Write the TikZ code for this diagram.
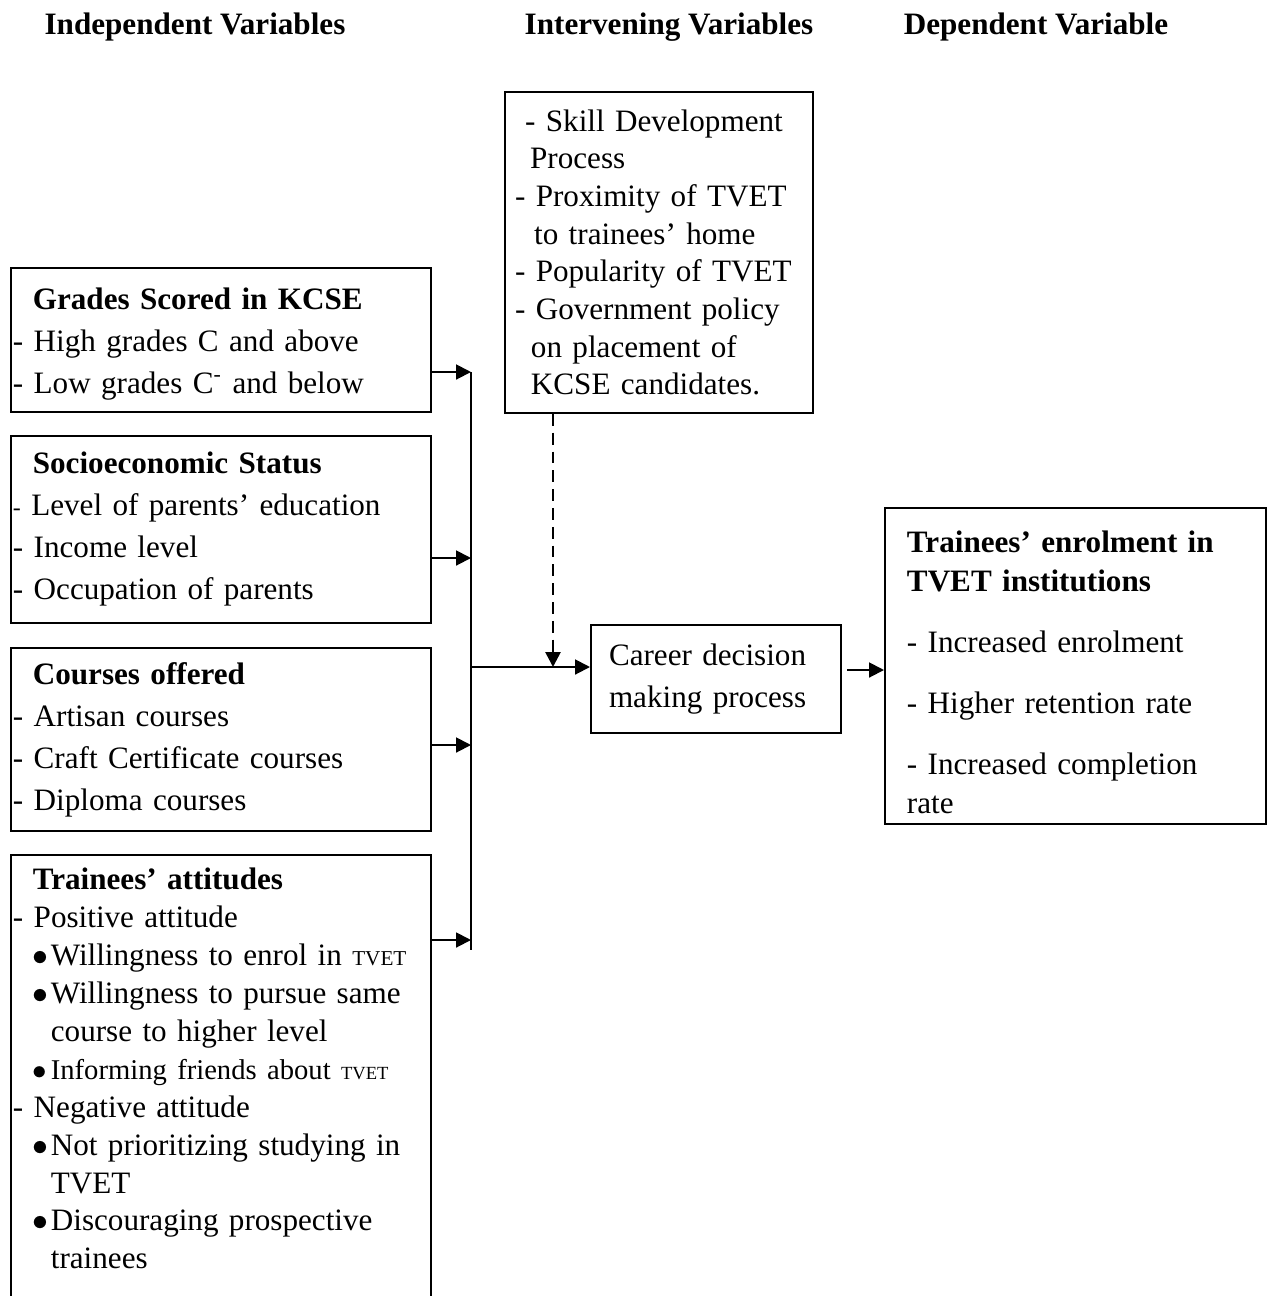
\documentclass[tikz,border=0pt]{standalone}
\usepackage{fontspec}
\setmainfont{Liberation Serif}
\usetikzlibrary{arrows.meta, positioning}
\newcommand{\hd}[1]{\hspace*{7.5pt}\textbf{#1}}
\newcommand{\bul}{\hspace*{7.5pt}\makebox[6.8pt][l]{$\bullet$}}
\newcommand{\ind}{\hspace*{14.3pt}}
\tikzset{
    >={Triangle[length=5.6pt,width=5.6pt]},
    x=0.3774pt, y=-0.3774pt,
    % Shapes
    box/.style={rectangle, draw, line width=0.75pt, inner ysep=0pt, align=left,
                font=\fontsize{11.75}{15.85}\selectfont},
    leftBox/.style={box, inner xsep=0.75pt, text width=157pt, minimum width=158.5pt},
    heading/.style={font=\fontsize{11.75}{14}\selectfont\bfseries, anchor=base},
    % Flow
    flow/.style={->, line width=0.75pt},
    bus/.style={line width=0.6pt},
    influence/.style={->, line width=1pt, dash pattern=on 4.5pt off 2.6pt}
}
\begin{document}
\begin{tikzpicture}
\useasboundingbox (0,0) rectangle (1269,1296);

\node[heading] (hIndep) at (195,34) {Independent Variables};
\node[heading] (hInterv) at (669,34) {Intervening Variables};
\node[heading] (hDep) at (1036,34) {Dependent Variable};

% Independent variables
\node[leftBox, anchor=north west, minimum height=54.3pt] (grades) at (10,267)
    {\hd{Grades Scored in KCSE}\rule{0pt}{11.2pt}\\
     - High grades C and above\\
     - Low grades C\textsuperscript{-} and below};
\node[leftBox, below=8.3pt of grades, minimum height=70.6pt] (socio)
    {\hd{Socioeconomic Status}\\
     {\small -} Level of parents’ education\\
     - Income level\\
     - Occupation of parents};
\node[leftBox, below=8.7pt of socio, minimum height=69.1pt] (courses)
    {\hd{Courses offered}\\
     - Artisan courses\\
     - Craft Certificate courses\\
     - Diploma courses};
\node[leftBox, below=8.3pt of courses, inner ysep=5pt,
      font=\fontsize{11.75}{14.3}\selectfont] (attitudes)
    {\hd{Trainees’ attitudes}\\
     - Positive attitude\\
     \bul Willingness to enrol in {\footnotesize TVET}\\
     \bul Willingness to pursue same\\
     \ind course to higher level\\
     {\fontsize{10.8}{14.3}\selectfont\bul Informing friends about {\scriptsize TVET}}\\
     - Negative attitude\\
     \bul Not prioritizing studying in\\
     \ind TVET\\
     \bul Discouraging prospective\\
     \ind trainees\rule[-20pt]{0pt}{0pt}};

% Intervening variables
\node[box, anchor=north west, inner xsep=3.8pt, text width=108.6pt,
      minimum height=121.1pt, font=\fontsize{11.75}{14.2}\selectfont] (interv) at (504,91)
    {\hspace*{3.8pt}- Skill Development\\
     \hspace*{5.7pt}Process\\
     - Proximity of TVET\\
     \hspace*{7.2pt}to trainees’ home\\
     - Popularity of TVET\\
     - Government policy\\
     \hspace*{6pt}on placement of\\
     \hspace*{6pt}KCSE candidates.};

\node[box, anchor=north west, inner xsep=6.8pt, text width=80.75pt,
      minimum height=40.8pt] (career) at (590,624)
    {Career decision\\ making process};

% Dependent variable
\node[box, anchor=north west, inner xsep=8.3pt, text width=127.2pt,
      minimum height=119.3pt, font=\fontsize{11.75}{14.7}\selectfont] (dep) at (884,507)
    {\textbf{Trainees’ enrolment in}\rule{0pt}{13pt}\\
     \textbf{TVET institutions}\\[8.3pt]
     - Increased enrolment\\[8.3pt]
     - Higher retention rate\\[8.3pt]
     - Increased completion\\
     rate};

\coordinate (busTop) at (471,372);
\coordinate (busBot) at (471,950);
\coordinate (busMid) at (471,667);
\coordinate (joinPt) at (553,667);

\draw[bus] (busTop) -- (busBot);
\draw[flow] (grades.east |- busTop) -- (busTop);
\draw[flow] (socio.east |- 0,558) -- (busTop |- 0,558);
\draw[flow] (courses.east |- 0,745) -- (busTop |- 0,745);
\draw[flow] (attitudes.east |- 0,940) -- (busTop |- 0,940);

\draw[flow] (busMid) -- (career.west |- busMid);
\draw[influence] (interv.south -| joinPt) -- (joinPt);
\draw[flow] ([xshift=1.9pt]career.east |- 0,670) -- (dep.west |- 0,670);

\end{tikzpicture}
\end{document}
